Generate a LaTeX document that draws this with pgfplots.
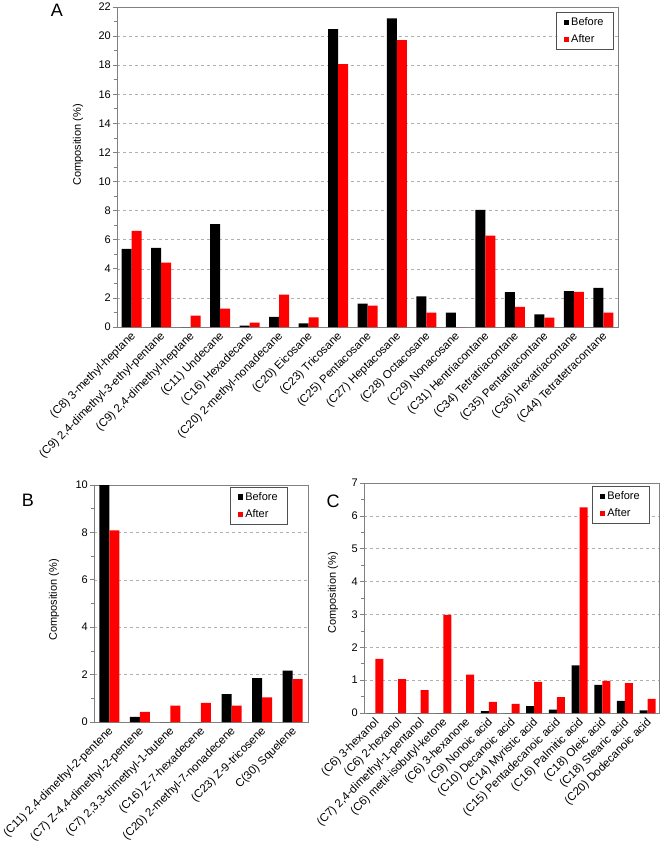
\documentclass[border=0pt]{standalone}
\usepackage{pgfplots}
\pgfplotsset{compat=1.18}
\usepackage{fontspec}
\setmainfont{Liberation Sans}
\definecolor{barred}{RGB}{255,0,0}
\definecolor{framegray}{RGB}{128,128,128}
\definecolor{gridgray}{RGB}{175,175,175}
\definecolor{leggray}{RGB}{80,80,80}

\pgfplotsset{
  panel/.style={
    scale only axis,
    ybar=0pt,
    ymin=0,
    xmin=-0.5,
    xtick=data,
    axis line style={framegray, line width=0.9pt},
    ymajorgrids,
    major grid style={gridgray, dashed, line width=0.5pt},
    tick align=outside,
    ytick pos=left,
    xtick style={draw=none},
    minor y tick num=1,
    every tick/.style={framegray, line width=0.7pt},
    major tick length=4pt, minor tick length=3pt,
    /pgf/number format/assume math mode=true,
    yticklabel style={font=\fontsize{11}{13}\selectfont, inner sep=2pt},
    xticklabel style={font=\fontsize{11.5}{13}\selectfont, rotate=45, anchor=east, inner sep=1pt, yshift=-4pt},
    ylabel={Composition (\%)},
    ylabel style={font=\fontsize{11}{13}\selectfont, anchor=center},
    legend style={draw=leggray, line width=0.8pt, font=\fontsize{11}{13}\selectfont,
      anchor=north east, legend cell align=left, row sep=4pt, inner xsep=8pt, inner ysep=3pt},
  },
  befbar/.style={fill=black, draw=none,
    legend image code/.code={\fill[black] (0pt,-2.6pt) rectangle (5.2pt,2.6pt);}},
  aftbar/.style={fill=barred, draw=none,
    legend image code/.code={\fill[barred] (0pt,-2.6pt) rectangle (5.2pt,2.6pt);}},
}

\begin{document}
\begin{tikzpicture}
\path[use as bounding box] (0pt,0pt) rectangle (661pt,-849pt);

% ---------------- Panel A ----------------
\begin{axis}[panel,
  at={(117pt,-327pt)}, anchor=south west,
  width=501pt, height=320pt,
  xmax=16.5, ymax=22, ytick distance=2,
  bar width=10pt,
  xticklabels={{(C8) 3-methyl-heptane},{(C9) 2,4-dimethyl-3-ethyl-pentane},{(C9) 2,4-dimethyl-heptane},{(C11) Undecane},{(C16) Hexadecane},{(C20) 2-methyl-nonadecane},{(C20) Eicosane},{(C23) Tricosane},{(C25) Pentacosane},{(C27) Heptacosane},{(C28) Octacosane},{(C29) Nonacosane},{(C31) Hentriacontane},{(C34) Tetratriacontane},{(C35) Pentatriacontane},{(C36) Hexatriacontane},{(C44) Tetratetracontane}},
  ylabel style={at={(axis description cs:-0.078,0.569)}},
  legend style={at={(axis description cs:0.992,0.984)}},
]
\addplot[befbar] coordinates {(0,5.37) (1,5.44) (2,0) (3,7.07) (4,0.09) (5,0.69) (6,0.25) (7,20.48) (8,1.61) (9,21.22) (10,2.11) (11,0.99) (12,8.06) (13,2.39) (14,0.87) (15,2.46) (16,2.69)};
\addplot[aftbar] coordinates {(0,6.61) (1,4.43) (2,0.78) (3,1.26) (4,0.30) (5,2.23) (6,0.67) (7,18.07) (8,1.47) (9,19.72) (10,0.99) (11,0) (12,6.29) (13,1.38) (14,0.64) (15,2.41) (16,0.99)};
\legend{Before,After}
\end{axis}

% ---------------- Panel B ----------------
\begin{axis}[panel,
  at={(94pt,-722pt)}, anchor=south west,
  width=214pt, height=237pt,
  xmax=6.5, ymax=10, ytick distance=2,
  bar width=10pt,
  xticklabels={{(C11) 2,4-dimethyl-2-pentene},{(C7) Z-4,4-dimethyl-2-pentene},{(C7) 2,3,3-trimethyl-1-butene},{(C16) Z-7-hexadecene},{(C20) 2-methyl-7-nonadecene},{(C23) Z-9-tricosene},{C(30) Squelene}},
  ylabel style={at={(axis description cs:-0.187,0.515)}},
  legend style={at={(axis description cs:0.907,0.992)}},
]
\addplot[befbar] coordinates {(0,10.0) (1,0.22) (2,0) (3,0) (4,1.18) (5,1.85) (6,2.17)};
\addplot[aftbar] coordinates {(0,8.09) (1,0.43) (2,0.69) (3,0.81) (4,0.69) (5,1.04) (6,1.81)};
\legend{Before,After}
\end{axis}

% ---------------- Panel C ----------------
\begin{axis}[panel,
  at={(364pt,-713pt)}, anchor=south west,
  width=295pt, height=230pt,
  xmax=12.5, ymax=7, ytick distance=1,
  bar width=8pt,
  xticklabels={{(C6) 3-hexanol},{(C6) 2-hexanol},{(C7) 2,4-dimethyl-1-pentanol},{(C6) metil-isobutyl-ketone},{(C6) 3-hexanone},{(C9) Nonoic acid},{(C10) Decanoic acid},{(C14) Myristic acid},{(C15) Pentadecanoic acid},{(C16) Palmitic acid},{(C18) Oleic acid},{(C18) Stearic acid},{(C20) Dodecanoic acid}},
  ylabel style={at={(axis description cs:-0.105,0.522)}},
  legend style={at={(axis description cs:0.970,0.987)}},
]
\addplot[befbar] coordinates {(0,0) (1,0) (2,0) (3,0) (4,0) (5,0.06) (6,0) (7,0.21) (8,0.10) (9,1.45) (10,0.86) (11,0.37) (12,0.08)};
\addplot[aftbar] coordinates {(0,1.65) (1,1.03) (2,0.70) (3,2.99) (4,1.17) (5,0.34) (6,0.28) (7,0.95) (8,0.48) (9,6.26) (10,0.98) (11,0.91) (12,0.43)};
\legend{Before,After}
\end{axis}

\node[font=\fontsize{18}{20}\selectfont] at (57pt,-10pt) {A};
\node[font=\fontsize{18}{20}\selectfont] at (28pt,-500pt) {B};
\node[font=\fontsize{18}{20}\selectfont] at (333pt,-501pt) {C};
\end{tikzpicture}
\end{document}
